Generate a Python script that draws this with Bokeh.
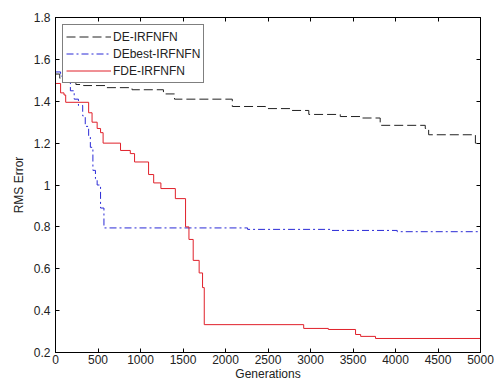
from bokeh.plotting import figure
from bokeh.models import LinearAxis, FixedTicker, Legend, LegendItem, Range1d
from bokeh.embed import file_html
from bokeh.resources import INLINE

# ---- data ----
gen_ticks = [0, 500, 1000, 1500, 2000, 2500, 3000, 3500, 4000, 4500, 5000]
rms_ticks = [0.2, 0.4, 0.6, 0.8, 1.0, 1.2, 1.4, 1.6, 1.8]
rms_tick_labels = ["0.2", "0.4", "0.6", "0.8", "1", "1.2", "1.4", "1.6", "1.8"]

series_names = ["DE-IRFNFN", "DEbest-IRFNFN", "FDE-IRFNFN"]

de_gen = [0, 50, 120, 240, 330, 600, 900, 1270, 1400, 2080, 2470, 2765, 2980,
          3350, 3590, 3820, 4350, 4390, 4940, 5000]
de_rms = [1.53, 1.51, 1.49, 1.48, 1.475, 1.465, 1.455, 1.435, 1.41, 1.375, 1.365,
          1.356, 1.337, 1.327, 1.32, 1.285, 1.27, 1.24, 1.20, 1.20]

db_gen = [0, 60, 120, 175, 220, 270, 320, 350, 390, 410, 440, 470, 490, 530,
          570, 2260, 3240, 4020, 5000]
db_rms = [1.54, 1.52, 1.49, 1.45, 1.41, 1.38, 1.33, 1.28, 1.23, 1.18, 1.07,
          1.03, 1.0, 0.89, 0.795, 0.788, 0.783, 0.777, 0.777]

fde_gen = [0, 60, 100, 120, 390, 430, 490, 530, 560, 765, 880, 930, 1095, 1155,
           1240, 1410, 1530, 1570, 1620, 1690, 1730, 1750, 2920, 3210, 3530,
           3590, 3765, 5000]
fde_rms = [1.485, 1.44, 1.43, 1.395, 1.345, 1.30, 1.27, 1.25, 1.20, 1.165, 1.15,
           1.11, 1.05, 1.01, 0.983, 0.935, 0.80, 0.74, 0.64, 0.58, 0.51, 0.333,
           0.315, 0.31, 0.286, 0.277, 0.267, 0.267]

FONT = "Liberation Sans"

p = figure(width=496, height=383, output_backend="svg", toolbar_location=None,
           x_range=Range1d(0, 5000), y_range=Range1d(0.2, 1.8),
           min_border_left=55, min_border_right=16, min_border_top=17,
           min_border_bottom=0,
           x_axis_label="Generations", y_axis_label="RMS Error")

p.grid.visible = False
p.outline_line_color = "black"
p.outline_line_width = 1
p.background_fill_color = "white"
p.border_fill_color = "white"

p.xaxis.ticker = FixedTicker(ticks=gen_ticks)
p.yaxis.ticker = FixedTicker(ticks=rms_ticks)
p.yaxis.major_label_overrides = {t: l for t, l in zip(rms_ticks, rms_tick_labels)}

for ax in (p.xaxis[0], p.yaxis[0]):
    ax.major_tick_in = 4
    ax.major_tick_out = 0
    ax.minor_tick_line_color = None
    ax.axis_line_color = "black"
    ax.major_label_text_font = FONT
    ax.major_label_text_font_size = "12px"
    ax.major_label_text_color = "#222222"
    ax.axis_label_text_font = FONT
    ax.axis_label_text_font_size = "12px"
    ax.axis_label_text_font_style = "normal"
    ax.axis_label_text_color = "#222222"

p.yaxis.major_label_standoff = 5
p.yaxis.axis_label_standoff = 5
p.xaxis.major_label_standoff = 2
p.xaxis.axis_label_standoff = 0

# mirror ticks on top and right (no labels)
for side, ticks in (("above", gen_ticks), ("right", rms_ticks)):
    ax = LinearAxis(ticker=FixedTicker(ticks=ticks), major_tick_in=4,
                    major_tick_out=0, minor_tick_line_color=None,
                    major_label_text_font_size="0px",
                    major_label_text_color=None, major_label_standoff=0,
                    axis_line_color="black")
    p.add_layout(ax, side)

r_de = p.step(de_gen, de_rms, mode="after", line_color="#222222",
              line_width=1, line_dash="9 4")
r_db = p.step(db_gen, db_rms, mode="after", line_color="#2a2ad6",
              line_width=1, line_dash="7 3 2 3")
r_fde = p.step(fde_gen, fde_rms, mode="after", line_color="#e0202a",
               line_width=1)

legend = Legend(items=[LegendItem(label=series_names[0], renderers=[r_de]),
                       LegendItem(label=series_names[1], renderers=[r_db]),
                       LegendItem(label=series_names[2], renderers=[r_fde])],
                location="top_left", margin=7, padding=3, spacing=0,
                glyph_width=45, glyph_height=17, label_height=17,
                label_standoff=2, label_text_font=FONT,
                label_text_font_size="12px", label_text_color="#222222",
                border_line_color="black", border_line_width=1,
                background_fill_color="white", background_fill_alpha=1)
p.add_layout(legend)

open("out.html", "w").write(file_html(p, INLINE))
